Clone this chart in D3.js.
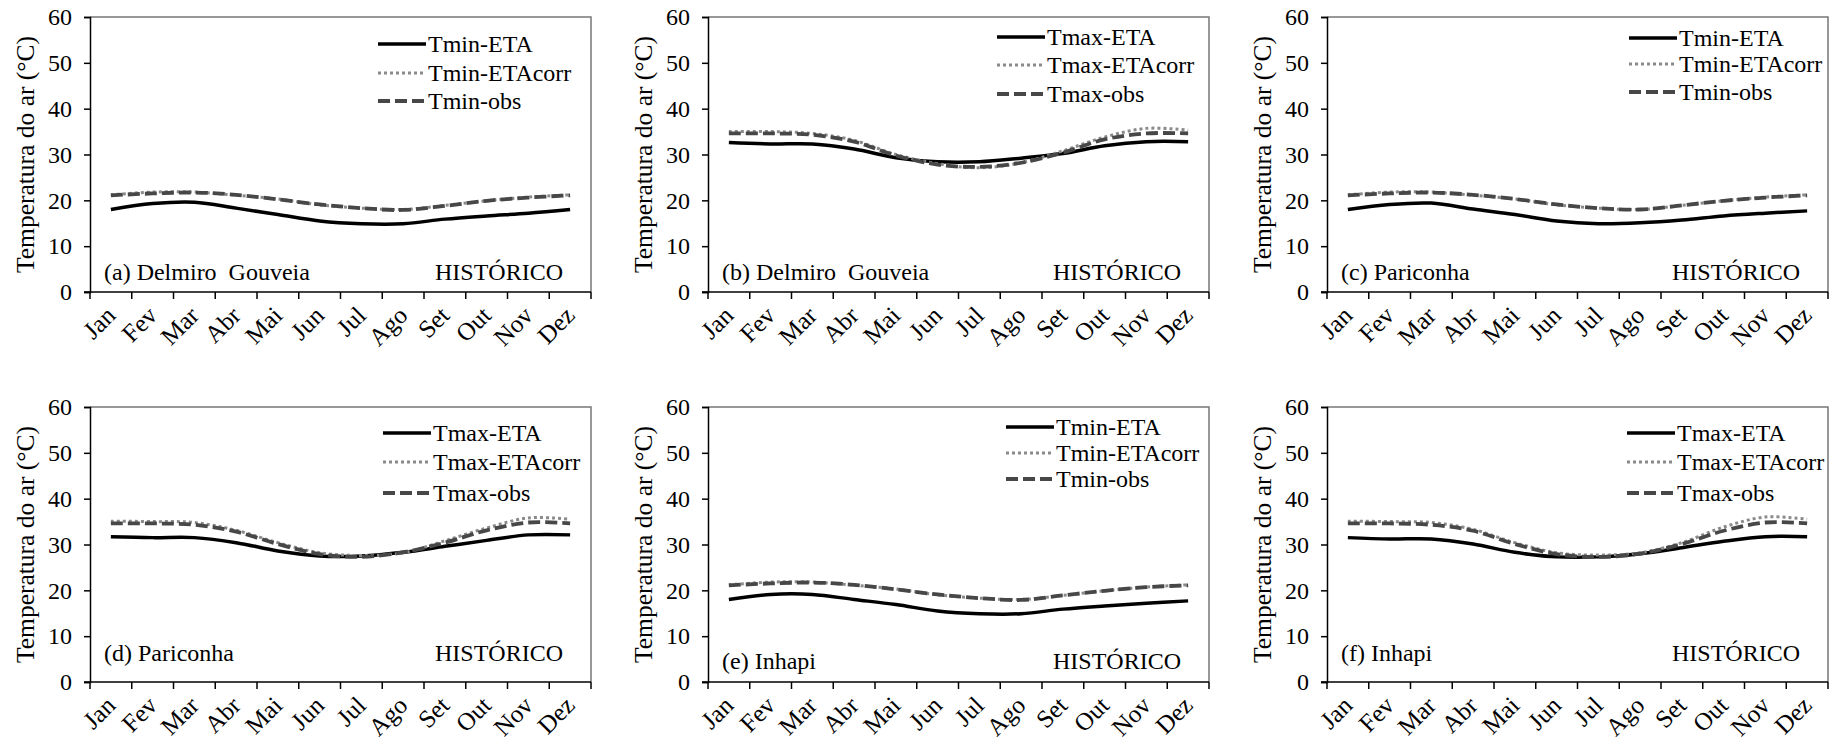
<!DOCTYPE html>
<html>
<head>
<meta charset="utf-8">
<script src="https://cdn.jsdelivr.net/npm/d3@7"></script>
<style>
  body { margin: 0; background: #fff; }
  svg text { font-family: "Liberation Serif", "Times New Roman", serif !important; fill: #000; }
</style>
</head>
<body>
<svg id="chart" width="1839" height="742" font-family="Liberation Serif"></svg>
<script>
// month names (x categories)
const months = ["Jan", "Fev", "Mar", "Abr", "Mai", "Jun", "Jul", "Ago", "Set", "Out", "Nov", "Dez"];
const yTicks = [0, 10, 20, 30, 40, 50, 60];

// (a) Delmiro Gouveia - Tmin
const delmiroTminEta  = [18.0, 19.3, 19.6, 18.3, 16.9, 15.5, 14.9, 14.9, 15.9, 16.6, 17.2, 18.0];
const delmiroTminCorr = [21.2, 21.8, 21.8, 21.1, 20.3, 19.0, 18.3, 18.0, 18.9, 19.9, 20.7, 21.2];
const delmiroTminObs  = [21.1, 21.5, 21.7, 21.2, 20.2, 19.1, 18.3, 17.9, 18.8, 19.9, 20.6, 21.1];
// (b) Delmiro Gouveia - Tmax
const delmiroTmaxEta  = [32.6, 32.3, 32.3, 31.2, 29.3, 28.4, 28.4, 29.2, 30.2, 31.9, 32.8, 32.8];
const delmiroTmaxCorr = [35.0, 35.0, 34.6, 33.1, 30.0, 28.0, 27.1, 28.2, 30.8, 33.8, 35.7, 35.3];
const delmiroTmaxObs  = [34.6, 34.6, 34.3, 32.8, 29.8, 27.8, 27.3, 28.2, 30.4, 33.3, 34.6, 34.6];
// (c) Pariconha - Tmin
const pariconhaTminEta  = [18.0, 19.1, 19.4, 18.1, 16.9, 15.5, 14.9, 15.1, 15.7, 16.6, 17.2, 17.7];
const pariconhaTminCorr = [21.2, 21.8, 21.8, 21.1, 20.3, 19.0, 18.3, 18.0, 18.9, 19.9, 20.7, 21.2];
const pariconhaTminObs  = [21.1, 21.5, 21.7, 21.2, 20.3, 19.1, 18.3, 18.0, 18.9, 19.9, 20.6, 21.1];
// (d) Pariconha - Tmax
const pariconhaTmaxEta  = [31.7, 31.5, 31.5, 30.4, 28.6, 27.5, 27.5, 28.3, 29.6, 30.9, 32.1, 32.1];
const pariconhaTmaxCorr = [35.1, 35.0, 34.8, 33.1, 30.4, 28.2, 27.6, 28.2, 30.8, 33.6, 35.8, 35.5];
const pariconhaTmaxObs  = [34.6, 34.6, 34.3, 32.8, 30.1, 27.9, 27.3, 28.3, 30.4, 33.1, 34.8, 34.6];
// (e) Inhapi - Tmin
const inhapiTminEta  = [18.0, 19.1, 19.1, 18.0, 16.9, 15.5, 14.9, 14.9, 15.9, 16.6, 17.2, 17.7];
const inhapiTminCorr = [21.2, 21.8, 21.8, 21.1, 20.3, 19.0, 18.3, 18.0, 18.9, 19.9, 20.7, 21.2];
const inhapiTminObs  = [21.1, 21.5, 21.7, 21.2, 20.2, 19.1, 18.3, 17.9, 18.9, 19.9, 20.7, 21.1];
// (f) Inhapi - Tmax
const inhapiTmaxEta  = [31.5, 31.2, 31.2, 30.1, 28.3, 27.3, 27.3, 28.0, 29.3, 30.7, 31.7, 31.7];
const inhapiTmaxCorr = [35.1, 35.0, 34.8, 33.3, 30.4, 28.2, 27.7, 28.2, 30.4, 33.8, 36.0, 35.5];
const inhapiTmaxObs  = [34.6, 34.6, 34.3, 33.0, 30.1, 27.9, 27.3, 28.0, 30.1, 33.0, 34.8, 34.6];

const panels = [
    {tag: "(a)", station: "Delmiro  Gouveia", v: "Tmin", eta: delmiroTminEta, corr: delmiroTminCorr, obs: delmiroTminObs},
    {tag: "(b)", station: "Delmiro  Gouveia", v: "Tmax", eta: delmiroTmaxEta, corr: delmiroTmaxCorr, obs: delmiroTmaxObs},
    {tag: "(c)", station: "Pariconha", v: "Tmin", eta: pariconhaTminEta, corr: pariconhaTminCorr, obs: pariconhaTminObs},
    {tag: "(d)", station: "Pariconha", v: "Tmax", eta: pariconhaTmaxEta, corr: pariconhaTmaxCorr, obs: pariconhaTmaxObs},
    {tag: "(e)", station: "Inhapi", v: "Tmin", eta: inhapiTminEta, corr: inhapiTminCorr, obs: inhapiTminObs},
    {tag: "(f)", station: "Inhapi", v: "Tmax", eta: inhapiTmaxEta, corr: inhapiTmaxCorr, obs: inhapiTmaxObs}
];

// layout for each panel (plot-area origin, legend & label offsets)
const layout = [
    {x: 90,   y: 17,  legX: 288, legY: [27, 56, 84], labY: 20},
    {x: 708,  y: 17,  legX: 289, legY: [20, 48, 77], labY: 20},
    {x: 1327, y: 17,  legX: 302, legY: [21, 47, 75], labY: 20},
    {x: 90,   y: 407, legX: 293, legY: [26, 55, 86], labY: 29},
    {x: 708,  y: 407, legX: 298, legY: [20, 46, 72], labY: 21},
    {x: 1327, y: 407, legX: 300, legY: [26, 55, 86], labY: 29}
];

const W = 501, H = 275;
const FONT = "'Liberation Serif', 'Times New Roman', serif";
const styles = [
    {key: "eta",  suffix: "-ETA",     color: "#000",    width: 3.5, dash: null},
    {key: "corr", suffix: "-ETAcorr", color: "#8a8a8a", width: 3,   dash: "3,3"},
    {key: "obs",  suffix: "-obs",     color: "#474747", width: 3.8, dash: "12,5"}
];

const svg = d3.select("#chart");

const x = d3.scaleBand().domain(months).range([0, W]);
const y = d3.scaleLinear().domain([0, 60]).range([H, 0]);

const line = d3.line()
    .x((d, i) => x(months[i]) + x.bandwidth() / 2)
    .y(d => y(d))
    .curve(d3.curveCardinal);

panels.forEach(function (p, idx) {
    let L = layout[idx];
    let g = svg.append("g").attr("transform", "translate(" + L.x + "," + L.y + ")");

    // plot-area border (top / right)
    g.append("path")
        .attr("d", "M0,0H" + W + "V" + H)
        .attr("fill", "none")
        .attr("stroke", "#777")
        .attr("stroke-width", 1.5);

    // y axis
    let yAxis = g.append("g")
        .call(d3.axisLeft(y).tickValues(yTicks).tickSize(6).tickPadding(12));
    yAxis.attr("font-family", FONT);
    yAxis.select(".domain").attr("stroke", "#000").attr("stroke-width", 1.5);
    yAxis.selectAll(".tick line").attr("stroke-width", 1.5);
    yAxis.selectAll("text").style("font-size", "24px").style("font-family", FONT);

    // x axis with ticks on band edges
    let xAxis = g.append("g").attr("transform", "translate(0," + H + ")");
    xAxis.append("line").attr("x1", -6).attr("x2", W).attr("stroke", "#000").attr("stroke-width", 1.5);
    let edges = d3.range(months.length + 1).map(i => i * x.step());
    xAxis.selectAll(".xt").data(edges).enter().append("line")
        .attr("x1", d => d).attr("x2", d => d)
        .attr("y1", 0).attr("y2", 7)
        .attr("stroke", "#000").attr("stroke-width", 1.5);
    xAxis.selectAll(".xl").data(months).enter().append("text")
        .attr("text-anchor", "end")
        .attr("transform", d => "translate(" + (x(d) + x.bandwidth() / 2 + 6) + ",25) rotate(-45)")
        .style("font-size", "25px")
        .style("font-family", FONT)
        .text(d => d);

    // y axis title
    g.append("text")
        .attr("transform", "translate(" + (-62) + "," + (H / 2) + ") rotate(-90)")
        .attr("text-anchor", "middle")
        .attr("dominant-baseline", "middle")
        .style("font-size", "25.5px")
        .style("font-family", FONT)
        .text("Temperatura do ar (°C)");

    // series
    styles.forEach(function (s) {
        g.append("path")
            .datum(p[s.key])
            .attr("d", line)
            .attr("fill", "none")
            .attr("stroke", s.color)
            .attr("stroke-width", s.width)
            .attr("stroke-dasharray", s.dash);
    });

    // legend
    styles.forEach(function (s, i) {
        let ly = L.legY[i];
        g.append("line")
            .attr("x1", L.legX).attr("x2", L.legX + 48)
            .attr("y1", ly).attr("y2", ly)
            .attr("stroke", s.color)
            .attr("stroke-width", s.width)
            .attr("stroke-dasharray", s.dash);
        g.append("text")
            .attr("x", L.legX + 50).attr("y", ly)
            .attr("dominant-baseline", "central")
            .style("font-size", "24px")
            .style("font-family", FONT)
            .text(p.v + s.suffix);
    });

    // station label and period
    g.append("text")
        .attr("x", 14).attr("y", H - L.labY)
        .attr("dominant-baseline", "central")
        .style("font-size", "24px")
        .style("font-family", FONT)
        .style("white-space", "pre")
        .text(p.tag + " " + p.station);
    g.append("text")
        .attr("x", W - 28).attr("y", H - L.labY)
        .attr("text-anchor", "end")
        .attr("dominant-baseline", "central")
        .style("font-size", "24px")
        .style("font-family", FONT)
        .text("HISTÓRICO");
});
</script>
</body>
</html>
